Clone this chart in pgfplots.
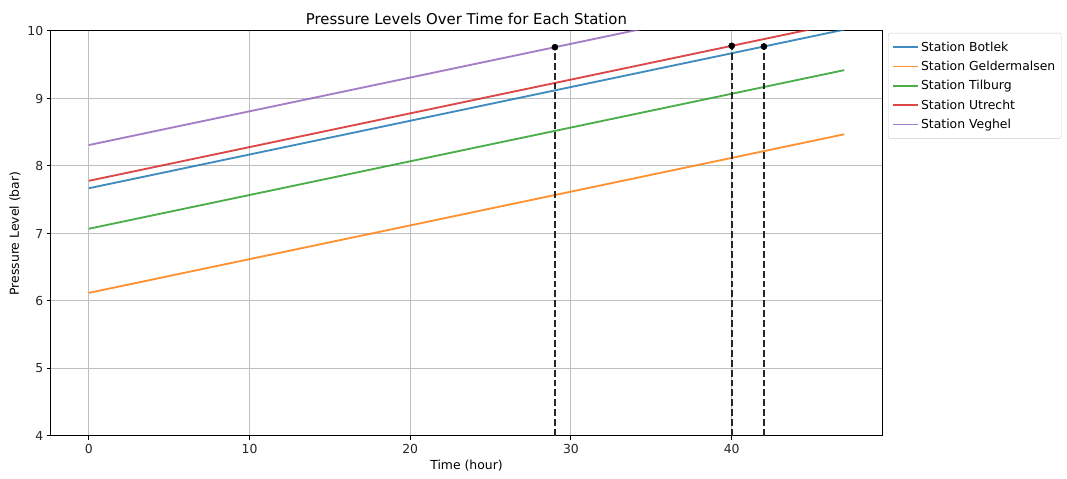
\documentclass[border=0pt]{standalone}
\usepackage{pgfplots}
\pgfplotsset{compat=1.18}
\usepackage{fontspec}
\setmainfont{DejaVu Sans}

\definecolor{c0}{HTML}{1F77B4}
\definecolor{c1}{HTML}{FF7F0E}
\definecolor{c2}{HTML}{2CA02C}
\definecolor{c3}{HTML}{D62728}
\definecolor{c4}{HTML}{9467BD}

\begin{document}
\begin{tikzpicture}
\begin{axis}[
  scale only axis,
  width=831pt, height=405pt,
  xmin=-2.35, xmax=49.35,
  ymin=4, ymax=10,
  xtick={0,10,20,30,40},
  ytick={4,5,6,7,8,9,10},
  grid=major,
  grid style={line width=1pt, color=black!25},
  tick align=outside,
  tick pos=left,
  major tick length=4.3pt,
  tick style={black, line width=1pt},
  axis line style={line width=1pt},
  /pgf/number format/assume math mode=true,
  ticklabel style={font=\fontsize{12.4}{14}\selectfont, text=black!85},
  label style={font=\fontsize{12.4}{14}\selectfont},
  title style={font=\fontsize{14.9}{17}\selectfont, yshift=-3pt},
  title={Pressure Levels Over Time for Each Station},
  xlabel={Time (hour)},
  ylabel={Pressure Level (bar)},
  legend style={at={(1,1)}, anchor=north west, xshift=6pt, yshift=-2pt,
    font=\fontsize{12.4}{14}\selectfont, draw=black!20, rounded corners=2pt,
    row sep=4.4pt, inner xsep=4pt, inner ysep=6.5pt},
  legend cell align=left,
  legend image code/.code={\draw[#1, line width=1.86pt] (0pt,0pt) -- (25pt,0pt);},
  clip=true,
]
\addplot[c0, opacity=0.85, line width=1.86pt] coordinates {(0,7.67) (47,10.02)};
\addlegendentry{Station Botlek}
\addplot[c1, opacity=0.85, line width=1.86pt] coordinates {(0,6.12) (47,8.47)};
\addlegendentry{Station Geldermalsen}
\addplot[c2, opacity=0.85, line width=1.86pt] coordinates {(0,7.07) (47,9.42)};
\addlegendentry{Station Tilburg}
\addplot[c3, opacity=0.85, line width=1.86pt] coordinates {(0,7.78) (47,10.13)};
\addlegendentry{Station Utrecht}
\addplot[c4, opacity=0.85, line width=1.86pt] coordinates {(0,8.31) (47,10.66)};
\addlegendentry{Station Veghel}

\addplot[black!85, line width=1.86pt, dash pattern=on 6.9pt off 3pt, forget plot] coordinates {(29,4) (29,9.76)};
\addplot[black!85, line width=1.86pt, dash pattern=on 6.9pt off 3pt, forget plot] coordinates {(40,4) (40,9.78)};
\addplot[black!85, line width=1.86pt, dash pattern=on 6.9pt off 3pt, forget plot] coordinates {(42,4) (42,9.77)};
\addplot[only marks, mark=*, mark size=3.1pt, black, forget plot] coordinates {(29,9.76) (40,9.78) (42,9.77)};
\end{axis}
\pgfresetboundingbox
\path (current axis.south west) ++(-51pt,-43pt) coordinate (bl);
\path (current axis.north east) ++(185pt,31pt) coordinate (tr);
\path (bl) rectangle (tr);
\end{tikzpicture}
\end{document}
